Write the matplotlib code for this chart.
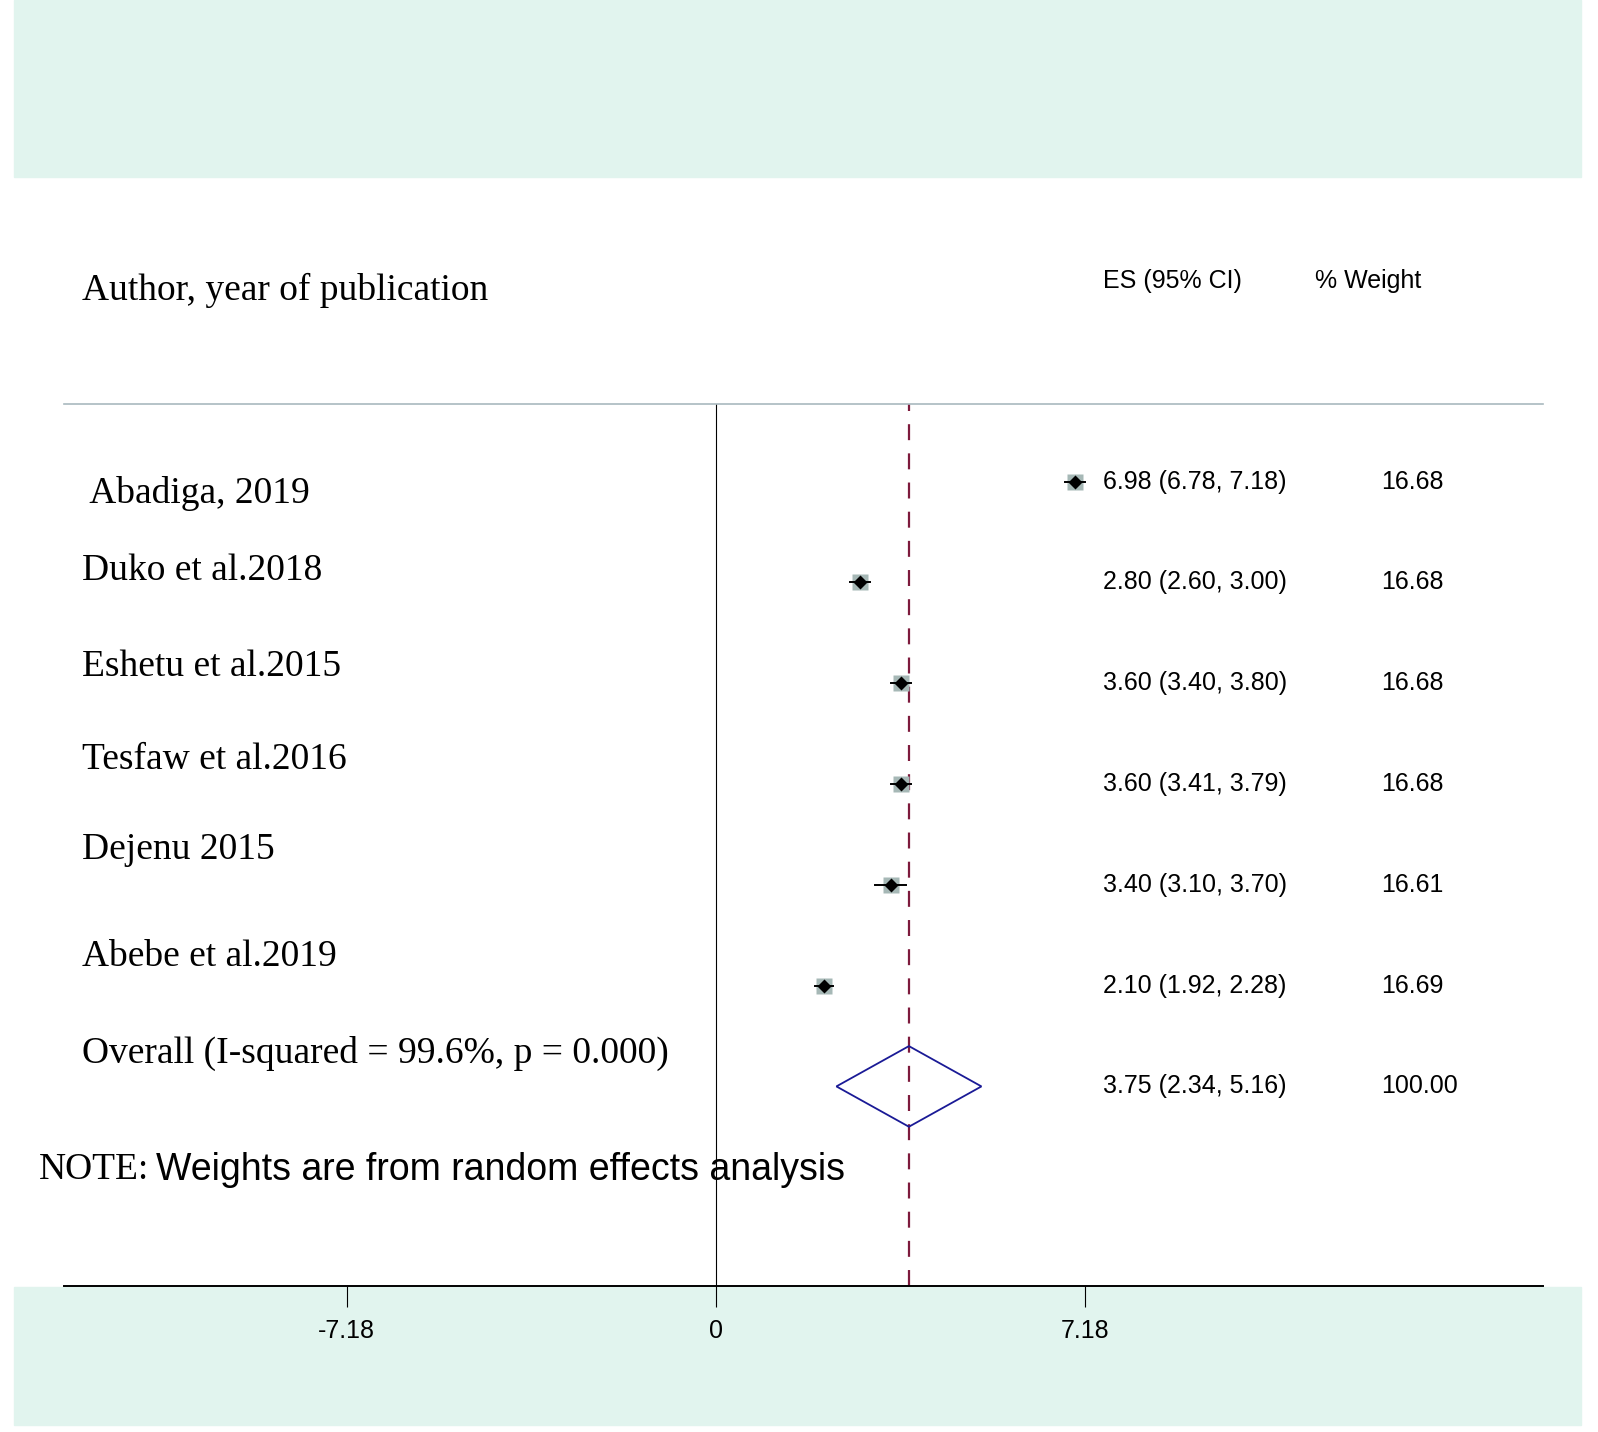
"""Forest plot: prevalence estimates with random effects pooled estimate."""

import matplotlib
matplotlib.use("Agg")
import matplotlib.pyplot as plt
import matplotlib.transforms as mtransforms
from matplotlib.patches import Polygon, Rectangle

# data
studies = [" Abadiga, 2019", "Duko et al.2018", "Eshetu et al.2015",
           "Tesfaw et al.2016", "Dejenu 2015", "Abebe et al.2019"]
es = [6.98, 2.80, 3.60, 3.60, 3.40, 2.10]
lo = [6.78, 2.60, 3.40, 3.41, 3.10, 1.92]
hi = [7.18, 3.00, 3.80, 3.79, 3.70, 2.28]
weights = [16.68, 16.68, 16.68, 16.68, 16.61, 16.69]
overall_label = "Overall (I-squared = 99.6%, p = 0.000)"
overall = (3.75, 2.34, 5.16)
overall_weight = 100.00
xticks = [-7.18, 0, 7.18]

W, H = 1598, 1432
BAND = "#e1f4ee"
SERIF = "Liberation Serif"
SANS = "Liberation Sans"
SMALL = 18
BIG = 27
plt.rcParams["lines.scale_dashes"] = False


def fx(x):
    return x / W


def fy(y):
    return 1 - y / H


fig = plt.figure(figsize=(W / 100, H / 100), dpi=100)
fig.patch.set_facecolor("white")

# coloured bands top and bottom (behind the axes)
fig.patches.append(Rectangle((fx(14), fy(177)), fx(1581) - fx(14), 177 / H,
                             transform=fig.transFigure, color=BAND, zorder=-5))
fig.patches.append(Rectangle((fx(14), fy(1425)), fx(1581) - fx(14), (1425 - 1287) / H,
                             transform=fig.transFigure, color=BAND, zorder=-5))

ax = fig.add_axes([fx(64), fy(1286), fx(1543) - fx(64), (1286 - 404) / H])
ax.set_facecolor("white")
ax.set_xlim(-12.68, 16.08)
n = len(studies)
ax.set_ylim(7.98, -0.77)

for s in ["left", "right"]:
    ax.spines[s].set_visible(False)
ax.spines["bottom"].set_linewidth(1.4)
ax.spines["top"].set_color("#a9b9bf")
ax.spines["top"].set_linewidth(1.2)

ax.set_yticks([])
ax.set_xticks(xticks)
ax.set_xticklabels(["-7.18", "0", "7.18"], fontfamily=SANS, fontsize=SMALL)
ax.tick_params(axis="x", length=15, width=0.8, direction="out", pad=9)

# null line and pooled line
ax.axvline(0, color="black", lw=0.8, zorder=1)
ax.axvline(overall[0], color="#7d1a3c", lw=1.6, dashes=(11.5, 9.5), zorder=1)

# study markers
for i in range(n):
    ax.plot([lo[i], hi[i]], [i, i], color="black", lw=1.4, zorder=3)
    ax.plot(es[i], i, marker="s", ms=11 * (weights[i] / 16.68) ** 0.5,
            color="#a6b8b6", mec="none", zorder=2)
    ax.plot(es[i], i, marker="D", ms=7, color="black", mec="none", zorder=4)

# pooled diamond
pe, plo, phi = overall
ax.add_patch(Polygon([(plo, n), (pe, n - 0.4), (phi, n), (pe, n + 0.4)],
                     closed=True, fill=False, edgecolor="#1a1a96", lw=1.3, zorder=4))

# text columns
trans = mtransforms.blended_transform_factory(fig.transFigure, ax.transData)
for i in range(n):
    ax.text(fx(1103), i, f"{es[i]:.2f} ({lo[i]:.2f}, {hi[i]:.2f})", transform=trans,
            fontfamily=SANS, fontsize=SMALL, va="center", ha="left")
    ax.text(fx(1381), i, f"{weights[i]:.2f}", transform=trans,
            fontfamily=SANS, fontsize=SMALL, va="center", ha="left")
ax.text(fx(1103), n, f"{pe:.2f} ({plo:.2f}, {phi:.2f})", transform=trans,
        fontfamily=SANS, fontsize=SMALL, va="center", ha="left")
ax.text(fx(1381), n, f"{overall_weight:.2f}", transform=trans,
        fontfamily=SANS, fontsize=SMALL, va="center", ha="left")

# study labels (slightly offset from rows, as in the original)
label_y = [494, 571, 667, 760, 850, 957]
for name, y in zip(studies, label_y):
    fig.text(fx(82), fy(y), name, fontfamily=SERIF, fontsize=BIG, va="center", ha="left")
fig.text(fx(82), fy(1053), overall_label, fontfamily=SERIF, fontsize=BIG,
         va="center", ha="left")

# headers
fig.text(fx(82), fy(290), "Author, year of publication", fontfamily=SERIF,
         fontsize=BIG, va="center", ha="left")
fig.text(fx(1103), fy(281), "ES (95% CI)", fontfamily=SANS, fontsize=SMALL,
         va="center", ha="left")
fig.text(fx(1315), fy(281), "% Weight", fontfamily=SANS, fontsize=SMALL,
         va="center", ha="left")

# note
fig.text(fx(39), fy(1170), "NOTE:", fontfamily=SERIF, fontsize=BIG,
         va="center", ha="left")
fig.text(fx(156), fy(1170), "Weights are from random effects analysis",
         fontfamily=SANS, fontsize=BIG, va="center", ha="left")

fig.savefig("out.png", dpi=100)
